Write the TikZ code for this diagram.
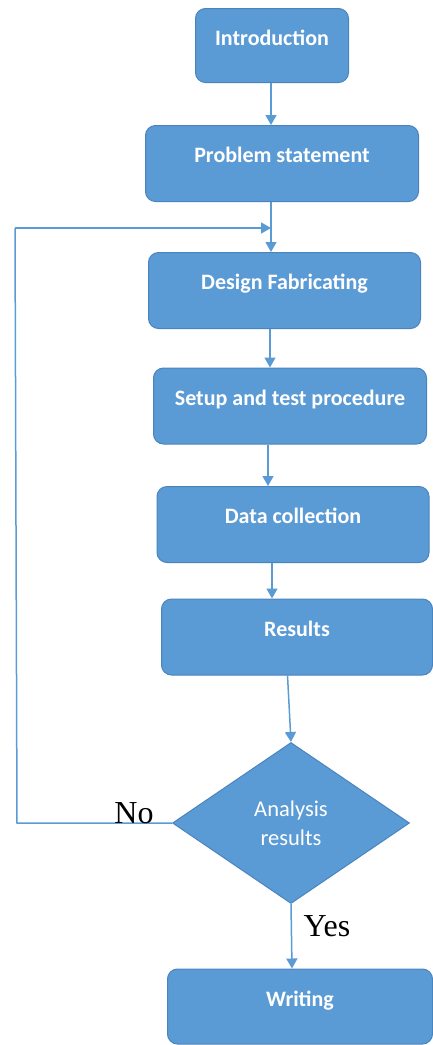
\documentclass[tikz,border=0pt]{standalone}
\usepackage{fontspec}
\setmainfont{Liberation Serif}
\newfontfamily\boxfont{Carlito}
\usetikzlibrary{arrows.meta,shapes.geometric}
\definecolor{boxfill}{HTML}{5B9BD5}
\definecolor{boxline}{HTML}{4A84BD}
\definecolor{arrcol}{HTML}{5B9BD5}
\begin{document}
\begin{tikzpicture}[x=1pt,y=-1pt,
  box/.style={draw=boxline, line width=1pt, fill=boxfill, rounded corners=10pt,
    anchor=north west, inner xsep=0pt, inner ysep=0pt, align=center,
    text=white, font=\boxfont\bfseries\fontsize{22}{26}\selectfont,
    text height=37pt, text depth=39pt},
  decision/.style={diamond, draw=boxline, line width=1pt, fill=boxfill, aspect=1.47,
    minimum width=237pt, minimum height=161pt, inner sep=0pt, align=center,
    text=white, font=\boxfont\fontsize{22.5}{29}\selectfont},
  arr/.style={draw=arrcol, line width=1.5pt, -{Triangle[length=10pt,width=11pt]}},
  line/.style={draw=arrcol, line width=1.5pt},
  lbl/.style={anchor=base, inner sep=0pt, text=black, font=\fontsize{32}{36}\selectfont}
]
\useasboundingbox (0,0) rectangle (433,1045);

\node[box, minimum width=153pt, text height=36.5pt, text depth=37.5pt] (intro) at (195,8) {Introduction};
\node[box, minimum width=273pt] (prob) at (145,125) {Problem statement};
\node[box, minimum width=272pt] (design) at (148,252) {Design Fabricating};
\node[box, minimum width=273pt] (setup) at (153,367.5) {Setup and test procedure};
\node[box, minimum width=272pt] (data) at (156.5,486) {Data collection};
\node[box, minimum width=271pt] (res) at (161,598.5) {Results};
\node[decision] (dec) at (291,823) {Analysis\\results};
\node[box, minimum width=265pt, text height=37pt, text depth=38pt] (write) at (167,968.5) {Writing};

\coordinate (c1) at (271,0);
\coordinate (c2) at (270,0);
\coordinate (c3) at (268,0);
\coordinate (c4) at (272,0);
\coordinate (c5) at (287.5,0);
\coordinate (c6) at (292,0);
\coordinate (merge) at (271,228);
\coordinate (lt) at (15,228);
\coordinate (lb) at (17,823);

\draw[arr] (intro.south -| c1) -- (prob.north -| c1);
\draw[arr] (prob.south -| c1) -- (design.north -| c1);
\draw[arr] (design.south -| c2) -- (setup.north -| c2);
\draw[arr] (setup.south -| c3) -- (data.north -| c3);
\draw[arr] (data.south -| c4) -- (res.north -| c4);
\draw[arr] (res.south -| c5) -- (dec.north);
\draw[arr] (dec.south) -- (write.north -| c6);
\draw[line] (dec.west) -- (lb) -- (lt);
\draw[arr] (lt) -- (merge);

\node[lbl] (no) at (134,823) {No};
\node[lbl] (yes) at (327,936) {Yes};
\end{tikzpicture}
\end{document}
